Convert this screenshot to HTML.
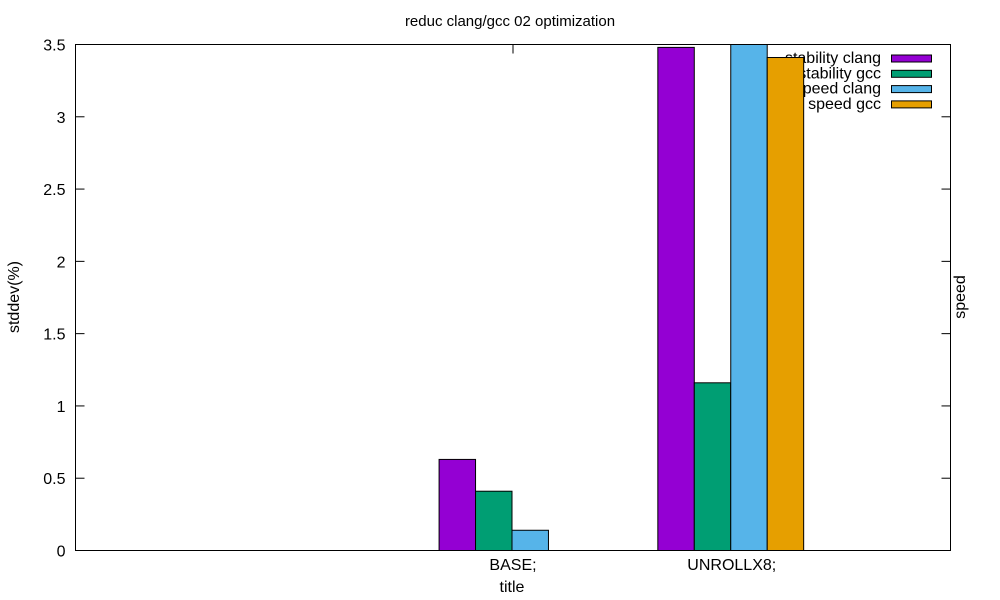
<!DOCTYPE html>
<html><head><meta charset="utf-8"><style>
body{margin:0;background:#fff}
svg{display:block;font-family:"Liberation Sans",sans-serif}
</style></head><body>
<svg id="chart" width="1000" height="600" viewBox="0 0 1000 600" xmlns="http://www.w3.org/2000/svg">
<text x="510" y="26" font-size="15" text-anchor="middle">reduc clang/gcc 02 optimization</text>
<text transform="translate(19,297) rotate(-90)" font-size="16" text-anchor="middle">stddev(%)</text>
<text transform="translate(965,297) rotate(-90)" font-size="16" text-anchor="middle">speed</text>
<text x="512" y="592" font-size="16" text-anchor="middle">title</text>
<g id="ticks"></g>
<g id="legend"></g>
<g id="bars"></g>
<rect x="75.5" y="44.5" width="875" height="506" fill="none" stroke="#000" stroke-width="1"/>
</svg>
<script>
const categories = ["BASE;", "UNROLLX8;"];
const seriesNames = ["stability clang", "stability gcc", "speed clang", "speed gcc"];
const stabilityClang = [0.63, 3.48];
const stabilityGcc = [0.41, 1.16];
const speedClang = [0.14, 3.6];
const speedGcc = [null, 3.41];
const yTicks = [0, 0.5, 1, 1.5, 2, 2.5, 3, 3.5];
const yTickLabels = ["0", "0.5", "1", "1.5", "2", "2.5", "3", "3.5"];

const colors = ["#9400d3", "#009e73", "#56b4e9", "#e69f00"];
const series = [stabilityClang, stabilityGcc, speedClang, speedGcc];
const L = 75.5, R = 950.5, T = 44.5, B = 550.5;
const yMax = 3.5;
function ys(v){ return B - Math.min(v, yMax) / yMax * (B - T); }
function xs(u){ return L + (u + 2) / 4 * (R - L); }
const NS = "http://www.w3.org/2000/svg";
function mk(tag, attrs, parent){ const e = document.createElementNS(NS, tag); for (const k in attrs) e.setAttribute(k, attrs[k]); parent.appendChild(e); return e; }

const tg = document.getElementById("ticks");
yTicks.forEach((v, i) => {
  const y = ys(v);
  const l1 = mk("line", {x1: L, x2: L + 9, y1: y, y2: y, stroke: "#000"}, tg);
  
  
  const l2 = mk("line", {x1: R - 9, x2: R, y1: y, y2: y, stroke: "#000"}, tg);
  
  
  const t = mk("text", {x: L - 10, y: y + 6, "font-size": 16, "text-anchor": "end"}, tg);
  t.textContent = yTickLabels[i];
  
  
});
categories.forEach((c, i) => {
  const x = xs(i);
  const l = mk("line", {x1: x, x2: x, y1: T, y2: T + 9, stroke: "#000"}, tg);
  
  
  const t = mk("text", {x: x, y: 570, "font-size": 16, "text-anchor": "middle"}, tg);
  t.textContent = c;
  
  
});

const lg = document.getElementById("legend");
seriesNames.forEach((n, i) => {
  const y = 58 + i * 15.3;
  const t = mk("text", {x: 881, y: y + 5, "font-size": 16, "text-anchor": "end"}, lg);
  t.textContent = n;
  
  
  const r = mk("rect", {x: 891.5, y: y - 3, width: 40, height: 7, fill: colors[i], stroke: "#000"}, lg);
  
  
});

const bg = document.getElementById("bars");
const bw = 1 / 6;
series.forEach((vals, s) => {
  vals.forEach((v, i) => {
    if (v === null) return;
    const u0 = i + (s - 2) * bw;
    const x0 = xs(u0) - 1, x1 = xs(u0 + bw) - 1;
    const y = ys(v);
    const r = mk("rect", {x: x0, y: y, width: x1 - x0, height: B - y, fill: colors[s], stroke: "#000"}, bg);
    
    
  });
});
</script>
</body></html>
